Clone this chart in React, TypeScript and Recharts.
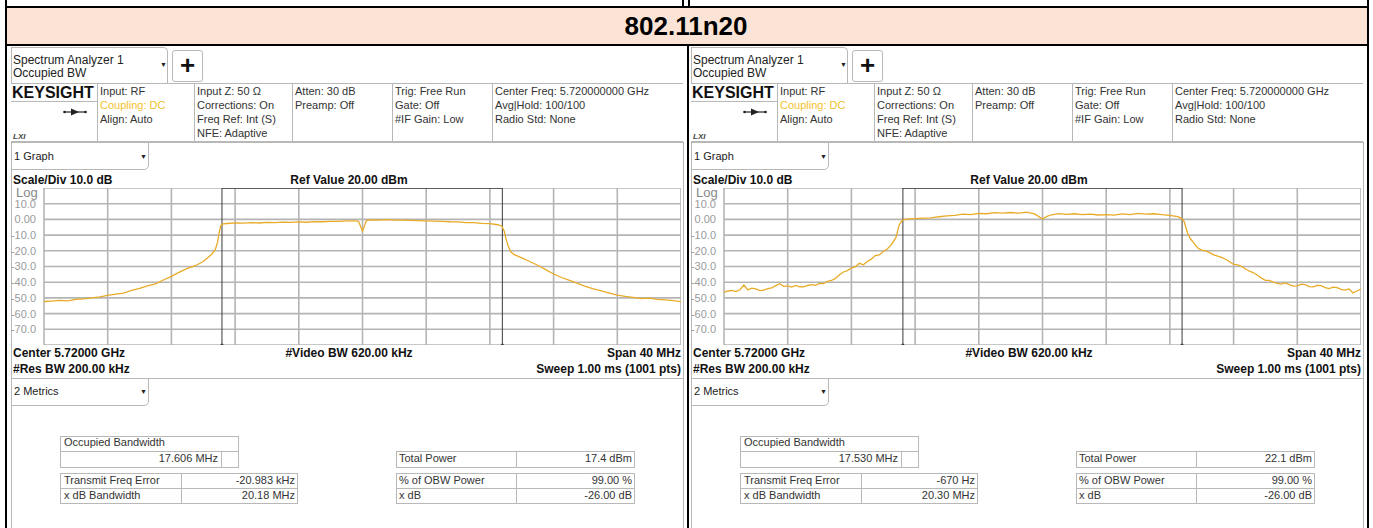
import React from "react";
import {
  LineChart,
  Line,
  XAxis,
  YAxis,
  CartesianGrid,
  ReferenceLine,
  ReferenceDot,
} from "recharts";

// frequency offset from 5.72 GHz (MHz) and level (dBm)
const freqTicks = [-20, -16, -12, -8, -4, 0, 4, 8, 12, 16, 20];
const levelTicks = [20, 10, 0, -10, -20, -30, -40, -50, -60, -70, -80];

const leftOffsets = [
  -20, -19.5, -19, -18.5, -18, -17.5, -17, -16.5, -16, -15.5, -15, -14.5, -14,
  -13.5, -13, -12.5, -12, -11.5, -11, -10.5, -10, -9.5, -9.25, -9.1, -9, -8.9,
  -8.75, -8.5, -8, -7.5, -7, -6.5, -6, -5.5, -5, -4.5, -4, -3.5, -3, -2.5, -2,
  -1.5, -1, -0.5, -0.25, 0, 0.25, 0.5, 1, 1.5, 2, 2.5, 3, 3.5, 4, 4.5, 5, 5.5,
  6, 6.5, 7, 7.5, 8, 8.5, 8.75, 8.9, 9, 9.15, 9.3, 9.5, 10, 10.5, 11, 11.5, 12,
  12.5, 13, 13.5, 14, 14.5, 15, 15.5, 16, 16.5, 17, 17.5, 18, 18.5, 19, 19.5, 20,
];
const leftLevels = [
  -52.3, -52.0, -51.6, -51.9, -50.9, -50.6, -50.0, -49.4, -48.4, -47.6, -46.9,
  -45.2, -44.0, -42.4, -41.0, -38.6, -36.3, -33.6, -31.2, -29.5, -26.8, -22.5,
  -19.5, -14.5, -8.5, -4.0, -2.9, -2.6, -2.2, -2.4, -2.0, -2.3, -1.9, -2.1,
  -1.7, -1.9, -1.6, -1.8, -1.4, -1.5, -1.2, -1.3, -1.0, -0.9, -1.2, -7.5, -0.6,
  -0.3, -0.5, -0.2, -0.4, -0.5, -0.6, -0.8, -0.9, -1.1, -1.2, -1.5, -1.6, -2.0,
  -2.1, -2.5, -2.7, -3.4, -4.3, -7.5, -12.0, -17.0, -20.5, -22.3, -24.5, -26.8,
  -29.2, -32.0, -34.8, -37.0, -38.9, -40.8, -42.7, -44.3, -45.6, -46.9, -48.2,
  -49.0, -49.6, -50.4, -50.1, -51.0, -51.3, -51.8, -52.4,
];

const rightOffsets = [
  -20, -19.75, -19.5, -19.25, -19, -18.75, -18.5, -18.25, -18, -17.75, -17.5,
  -17.25, -17, -16.75, -16.5, -16.25, -16, -15.75, -15.5, -15.25, -15, -14.75,
  -14.5, -14.25, -14, -13.75, -13.5, -13.25, -13, -12.75, -12.5, -12.25, -12,
  -11.75, -11.5, -11.25, -11, -10.75, -10.5, -10.25, -10, -9.75, -9.5, -9.2, -9,
  -8.8, -8.5, -8, -7.5, -7, -6.5, -6, -5.5, -5, -4.5, -4, -3.5, -3, -2.5, -2,
  -1.5, -1, -0.5, 0, 0.25, 0.5, 1, 1.5, 2, 2.5, 3, 3.5, 4, 4.5, 5, 5.5, 6, 6.5,
  7, 7.5, 8, 8.5, 8.75, 8.9, 9.1, 9.3, 9.5, 9.75, 10, 10.25, 10.5, 10.75, 11,
  11.25, 11.5, 11.75, 12, 12.25, 12.5, 12.75, 13, 13.25, 13.5, 13.75, 14, 14.25,
  14.5, 14.75, 15, 15.25, 15.5, 15.75, 16, 16.25, 16.5, 16.75, 17, 17.25, 17.5,
  17.75, 18, 18.25, 18.5, 18.75, 19, 19.25, 19.5, 19.75, 20,
];
const rightLevels = [
  -46.5, -45.6, -45.2, -46.0, -44.8, -41.8, -44.9, -43.8, -44.2, -45.3, -45.0,
  -44.1, -43.6, -42.2, -41.0, -42.6, -42.3, -43.1, -42.0, -42.9, -43.0, -42.1,
  -41.6, -42.0, -40.8, -40.9, -39.5, -38.9, -37.6, -35.2, -33.5, -32.6, -30.8,
  -30.2, -28.0, -28.9, -26.8, -25.3, -23.0, -22.6, -20.5, -18.8, -16.2, -11.5,
  -3.5, -0.4, 0.2, 0.5, 0.8, 1.0, 1.7, 2.2, 2.6, 3.3, 3.1, 3.8, 3.6, 4.3, 4.0,
  4.4, 4.0, 4.6, 3.5, 0.2, 1.8, 2.8, 3.7, 3.2, 3.6, 3.0, 3.4, 2.8, 3.1, 2.7, 3.5,
  3.0, 3.8, 3.3, 3.6, 3.0, 2.6, 1.8, 0.5, -1.5, -8.5, -12.5, -15.0, -18.2,
  -19.6, -20.0, -21.2, -22.6, -23.4, -24.2, -25.4, -27.0, -28.7, -28.9, -29.9,
  -31.6, -33.0, -34.0, -35.6, -37.4, -38.8, -38.9, -40.0, -40.8, -41.2, -40.5,
  -41.6, -42.5, -42.3, -41.2, -41.5, -42.8, -43.0, -42.0, -42.2, -43.4, -44.1,
  -43.2, -43.5, -44.6, -45.0, -44.3, -46.8, -45.6, -44.4,
];

// OBW marker edges (MHz offset)
const leftObw = [-8.824, 8.782];
const rightObw = [-8.766, 8.764];

const infoColumns = [
  ["Input: RF", "Coupling: DC", "Align: Auto"],
  ["Input Z: 50 Ω", "Corrections: On", "Freq Ref: Int (S)", "NFE: Adaptive"],
  ["Atten: 30 dB", "Preamp: Off"],
  ["Trig: Free Run", "Gate: Off", "#IF Gain: Low"],
  ["Center Freq: 5.720000000 GHz", "Avg|Hold: 100/100", "Radio Std: None"],
];
const infoColumnX = [100, 197, 295, 395, 495];

const leftMetrics = ["17.606 MHz", "-20.983 kHz", "20.18 MHz", "17.4 dBm"];
const rightMetrics = ["17.530 MHz", "-670 Hz", "20.30 MHz", "22.1 dBm"];

const FONT = '"Liberation Sans", Arial, sans-serif';
const LINE = "#b8b8b8";

function T({
  x,
  y,
  size = 11,
  bold = false,
  color = "#333",
  align = "left",
  italic = false,
  children,
}: any) {
  const shift =
    align === "right" ? "translateX(-100%)" : align === "center" ? "translateX(-50%)" : "none";
  return (
    <div
      style={{
        position: "absolute",
        left: x,
        top: y - size * 0.6,
        fontSize: size,
        lineHeight: `${size * 1.2}px`,
        fontWeight: bold ? 700 : 400,
        fontStyle: italic ? "italic" : "normal",
        color,
        whiteSpace: "nowrap",
        transform: shift,
      }}
    >
      {children}
    </div>
  );
}

function Box({ x, y, w, h, style }: any) {
  return (
    <div
      style={{
        position: "absolute",
        left: x,
        top: y,
        width: w,
        height: h,
        boxSizing: "border-box",
        border: `1px solid ${LINE}`,
        ...style,
      }}
    />
  );
}

function fmtLevel(v: number) {
  if (v === 20 || v === -80) return "";
  if (v === 0) return "0.00";
  return v.toFixed(1);
}

function Trace({ offsets, levels, obw }: any) {
  const data = offsets.map((f: number, i: number) => ({ f, dbm: levels[i] }));
  return (
    <LineChart width={671} height={157} data={data} margin={{ top: 0, right: 0, bottom: 0, left: 0 }}>
      <CartesianGrid stroke="#b4b4b4" strokeWidth={1.6} />
      <XAxis dataKey="f" type="number" domain={[-20, 20]} ticks={freqTicks} hide />
      <YAxis
        type="number"
        domain={[-80, 20]}
        ticks={levelTicks}
        interval={0}
        width={34}
        axisLine={false}
        tickLine={false}
        tickMargin={2}
        tickFormatter={fmtLevel}
        tick={{ fill: "#9a9a9a", fontSize: 11, fontFamily: FONT }}
      />
      <ReferenceLine x={obw[0]} stroke="#3a3a3a" strokeWidth={1} />
      <ReferenceLine x={obw[1]} stroke="#3a3a3a" strokeWidth={1} />
      <ReferenceLine
        segment={[
          { x: obw[0], y: 20 },
          { x: obw[1], y: 20 },
        ]}
        stroke="#3a3a3a"
        strokeWidth={1.5}
      />
      <ReferenceDot x={obw[0]} y={-80} r={1.5} fill="#3a3a3a" stroke="none" />
      <ReferenceDot x={obw[1]} y={-80} r={1.5} fill="#3a3a3a" stroke="none" />
      <Line
        type="linear"
        dataKey="dbm"
        stroke="#e8ab28"
        strokeWidth={1.3}
        dot={false}
        isAnimationActive={false}
      />
    </LineChart>
  );
}

function Arrow({ x, y }: any) {
  return (
    <svg style={{ position: "absolute", left: x, top: y }} width={26} height={10}>
      <line x1={2} y1={5} x2={24} y2={5} stroke="#222" strokeWidth={1.2} />
      <polygon points="9,1.5 17,5 9,8.5" fill="#222" />
      <circle cx={2.5} cy={5} r={1.3} fill="#222" />
      <circle cx={23.5} cy={5} r={1.3} fill="#222" />
    </svg>
  );
}

function Panel({ ox, offsets, levels, obw, metrics }: any) {
  const dd = "▼";
  return (
    <>
      {/* analyzer dropdown + plus button */}
      <Box x={ox + 11} y={47} w={157} h={37} style={{ borderBottom: "none", borderTopRightRadius: 5 }} />
      <T x={ox + 13} y={60} size={12} color="#222">Spectrum Analyzer 1</T>
      <T x={ox + 13} y={73} size={12} color="#222">Occupied BW</T>
      <T x={ox + 160} y={65} size={7} color="#222">{dd}</T>
      <Box x={ox + 172} y={50} w={31} h={32} style={{ borderRadius: 3 }} />
      <T x={ox + 187.5} y={66} size={26} bold color="#111" align="center">+</T>

      {/* header info row */}
      <div style={{ position: "absolute", left: ox + 11, top: 83, width: 672, height: 1, background: LINE }} />
      <div style={{ position: "absolute", left: ox + 11, top: 141, width: 672, height: 1, background: LINE }} />
      <div style={{ position: "absolute", left: ox + 11, top: 101, width: 86, height: 1, background: LINE }} />
      {[97, 194, 292, 392, 492].map((sx) => (
        <div key={sx} style={{ position: "absolute", left: ox + sx, top: 83, width: 1, height: 58, background: LINE }} />
      ))}
      <T x={ox + 12} y={93} size={16} bold color="#111">KEYSIGHT</T>
      <Arrow x={ox + 62} y={107} />
      <T x={ox + 13} y={137} size={8} bold italic color="#444">LXI</T>
      {infoColumns.map((col, ci) =>
        col.map((txt, li) => (
          <T
            key={`${ci}-${li}`}
            x={ox + infoColumnX[ci]}
            y={92 + li * 13.7}
            size={11}
            color={ci === 0 && li === 1 ? "#f2c230" : "#333"}
          >
            {txt}
          </T>
        ))
      )}

      {/* graph window */}
      <Box x={ox + 11} y={142} w={673} h={237} />
      <Box x={ox + 11} y={142} w={138} h={28} style={{ borderBottomRightRadius: 5 }} />
      <T x={ox + 14} y={157} size={11} color="#222">1 Graph</T>
      <T x={ox + 140} y={157} size={7} color="#222">{dd}</T>
      <T x={ox + 13} y={180} size={12} bold color="#111">Scale/Div 10.0 dB</T>
      <T x={ox + 349} y={180} size={12} bold color="#111" align="center">Ref Value 20.00 dBm</T>
      <T x={ox + 16} y={193} size={13} color="#888">Log</T>
      <div style={{ position: "absolute", left: ox + 10, top: 188 }}>
        <Trace offsets={offsets} levels={levels} obw={obw} />
      </div>
      <T x={ox + 13} y={353} size={12} bold color="#111">Center 5.72000 GHz</T>
      <T x={ox + 349} y={353} size={12} bold color="#111" align="center">#Video BW 620.00 kHz</T>
      <T x={ox + 681} y={353} size={12} bold color="#111" align="right">Span 40 MHz</T>
      <T x={ox + 13} y={369} size={12} bold color="#111">#Res BW 200.00 kHz</T>
      <T x={ox + 681} y={369} size={12} bold color="#111" align="right">Sweep 1.00 ms (1001 pts)</T>

      {/* metrics window */}
      <div style={{ position: "absolute", left: ox + 11, top: 378, width: 1, height: 150, background: LINE }} />
      <div style={{ position: "absolute", left: ox + 683, top: 378, width: 1, height: 150, background: LINE }} />
      <Box x={ox + 11} y={378} w={138} h={28} style={{ borderBottomRightRadius: 5 }} />
      <T x={ox + 14} y={392} size={11} color="#222">2 Metrics</T>
      <T x={ox + 140} y={392} size={7} color="#222">{dd}</T>

      <Box x={ox + 60} y={436} w={179} h={32} />
      <div style={{ position: "absolute", left: ox + 60, top: 451, width: 179, height: 1, background: LINE }} />
      <div style={{ position: "absolute", left: ox + 221, top: 451, width: 1, height: 16, background: LINE }} />
      <T x={ox + 64} y={443} size={11}>Occupied Bandwidth</T>
      <T x={ox + 218} y={459} size={11} align="right">{metrics[0]}</T>

      <Box x={ox + 60} y={473} w={238} h={31} />
      <div style={{ position: "absolute", left: ox + 60, top: 488, width: 238, height: 1, background: LINE }} />
      <div style={{ position: "absolute", left: ox + 181, top: 473, width: 1, height: 31, background: LINE }} />
      <T x={ox + 64} y={481} size={11}>Transmit Freq Error</T>
      <T x={ox + 295} y={481} size={11} align="right">{metrics[1]}</T>
      <T x={ox + 64} y={496} size={11}>x dB Bandwidth</T>
      <T x={ox + 295} y={496} size={11} align="right">{metrics[2]}</T>

      <Box x={ox + 396} y={451} w={239} h={17} />
      <div style={{ position: "absolute", left: ox + 516, top: 451, width: 1, height: 17, background: LINE }} />
      <T x={ox + 399} y={459} size={11}>Total Power</T>
      <T x={ox + 632} y={459} size={11} align="right">{metrics[3]}</T>

      <Box x={ox + 396} y={473} w={239} h={31} />
      <div style={{ position: "absolute", left: ox + 396, top: 488, width: 239, height: 1, background: LINE }} />
      <div style={{ position: "absolute", left: ox + 516, top: 473, width: 1, height: 31, background: LINE }} />
      <T x={ox + 399} y={481} size={11}>% of OBW Power</T>
      <T x={ox + 632} y={481} size={11} align="right">99.00 %</T>
      <T x={ox + 399} y={496} size={11}>x dB</T>
      <T x={ox + 632} y={496} size={11} align="right">-26.00 dB</T>
    </>
  );
}

export default function App() {
  const blk = (l: number, t: number, w: number, h: number) => (
    <div style={{ position: "absolute", left: l, top: t, width: w, height: h, background: "#000" }} />
  );
  return (
    <div
      style={{
        position: "absolute",
        left: 0,
        top: 0,
        width: 1373,
        height: 528,
        overflow: "hidden",
        background: "#fff",
        fontFamily: FONT,
      }}
    >
      {/* title band */}
      <div style={{ position: "absolute", left: 6, top: 8, width: 1362, height: 37, background: "#fbe4d5" }} />
      <T x={686} y={27} size={26} bold color="#000" align="center">802.11n20</T>

      <Panel ox={0} offsets={leftOffsets} levels={leftLevels} obw={leftObw} metrics={leftMetrics} />
      <Panel ox={680} offsets={rightOffsets} levels={rightLevels} obw={rightObw} metrics={rightMetrics} />

      {/* table borders */}
      {blk(5, 0, 2, 528)}
      {blk(1367, 0, 2, 528)}
      {blk(682, 0, 2, 7)}
      {blk(688, 0, 2, 7)}
      {blk(687, 45, 2, 483)}
      {blk(5, 6, 1364, 2)}
      {blk(5, 44, 1364, 2)}
    </div>
  );
}
